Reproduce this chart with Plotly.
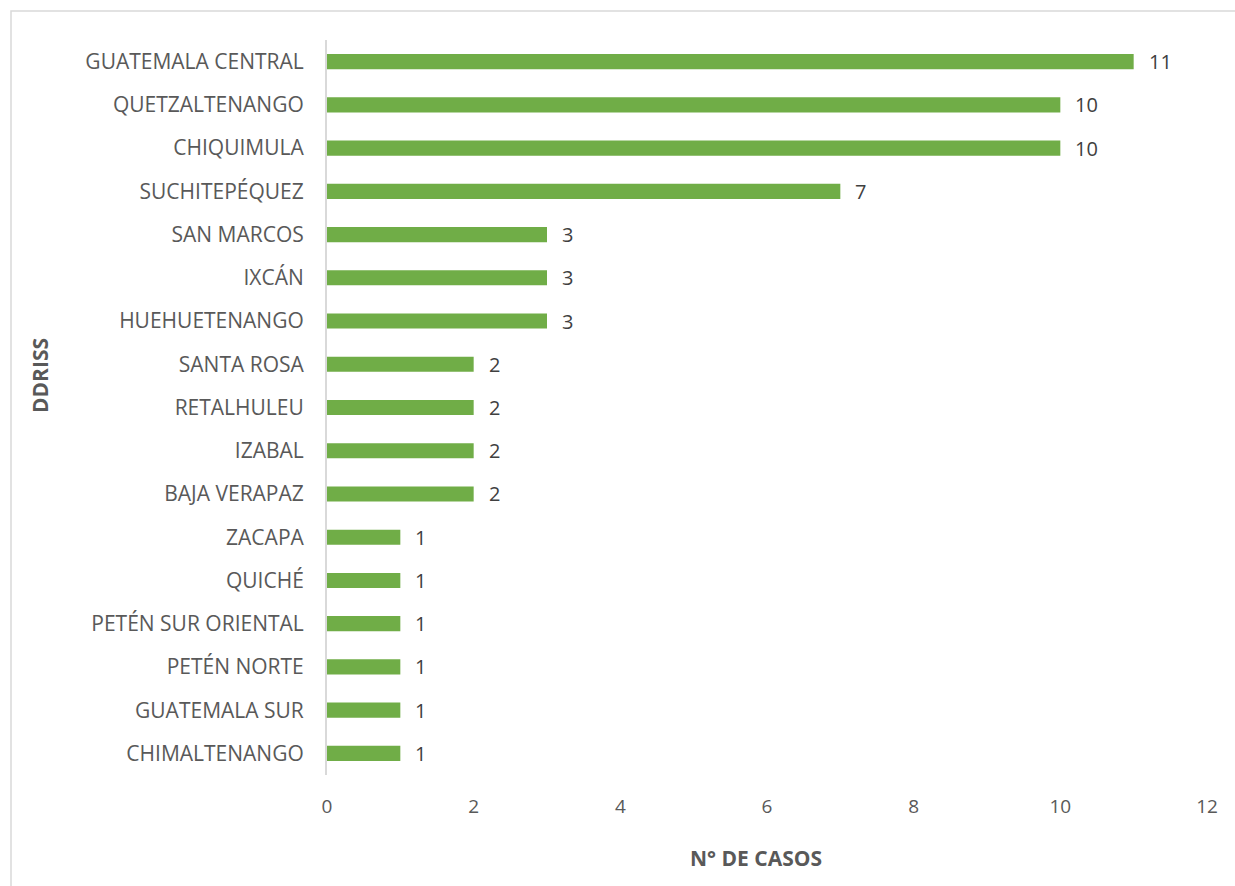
import plotly.graph_objects as go

categories = ["GUATEMALA CENTRAL", "QUETZALTENANGO", "CHIQUIMULA", "SUCHITEPÉQUEZ",
              "SAN MARCOS", "IXCÁN", "HUEHUETENANGO", "SANTA ROSA", "RETALHULEU",
              "IZABAL", "BAJA VERAPAZ", "ZACAPA", "QUICHÉ", "PETÉN SUR ORIENTAL",
              "PETÉN NORTE", "GUATEMALA SUR", "CHIMALTENANGO"]
casos = [11, 10, 10, 7, 3, 3, 3, 2, 2, 2, 2, 1, 1, 1, 1, 1, 1]
x_ticks = [0, 2, 4, 6, 8, 10, 12]

W, H = 1235, 886
L, R, T, B = 327, 28, 40, 111
FONT = "Open Sans"
pw, ph = W - L - R, H - T - B

fig = go.Figure(go.Bar(
    y=categories, x=casos, orientation="h",
    marker=dict(color="#70AD47", line=dict(width=0)),
    width=0.35, hoverinfo="skip",
))

for c, v in zip(categories, casos):
    fig.add_annotation(x=v, y=c, text=str(v), showarrow=False, xanchor="left",
                       xshift=13, font=dict(family=FONT, size=20, color="#404040"))

# axis titles
fig.add_annotation(xref="paper", yref="paper", x=(756 - L) / pw, y=(H - B - 858) / ph,
                   text="<b>N° DE CASOS</b>", showarrow=False, xanchor="center", yanchor="middle",
                   font=dict(family=FONT, size=21, color="#595959"))
fig.add_annotation(xref="paper", yref="paper", x=(40 - L) / pw, y=(H - B - 376) / ph,
                   text="<b>DDRISS</b>", showarrow=False, textangle=-90,
                   xanchor="center", yanchor="middle",
                   font=dict(family=FONT, size=21, color="#595959"))

fig.add_shape(type="rect", xref="paper", yref="paper",
              x0=(11 - L) / pw, x1=(W + 20 - L) / pw,
              y0=-(B + 20) / ph, y1=(H - B - 11) / ph,
              line=dict(color="#D9D9D9", width=1.5), fillcolor="rgba(0,0,0,0)", layer="below")

fig.update_layout(
    width=W, height=H, margin=dict(l=L, r=R, t=T, b=B, pad=0),
    paper_bgcolor="white", plot_bgcolor="white", showlegend=False,
    font=dict(family=FONT, color="#595959"),
    xaxis=dict(range=[0, 12], tickvals=x_ticks, showgrid=False, zeroline=False,
               showline=False, ticks="", ticklabelstandoff=18,
               tickfont=dict(size=19, color="#595959")),
    yaxis=dict(categoryorder="array", categoryarray=categories[::-1], autorange=False,
               range=[-0.5, len(categories) - 0.5],
               showgrid=False, zeroline=False, showline=True, linecolor="#D9D9D9", linewidth=2,
               ticks="", ticklabelstandoff=17,
               tickfont=dict(size=21, color="#595959")),
)

fig.write_html("out.html")
